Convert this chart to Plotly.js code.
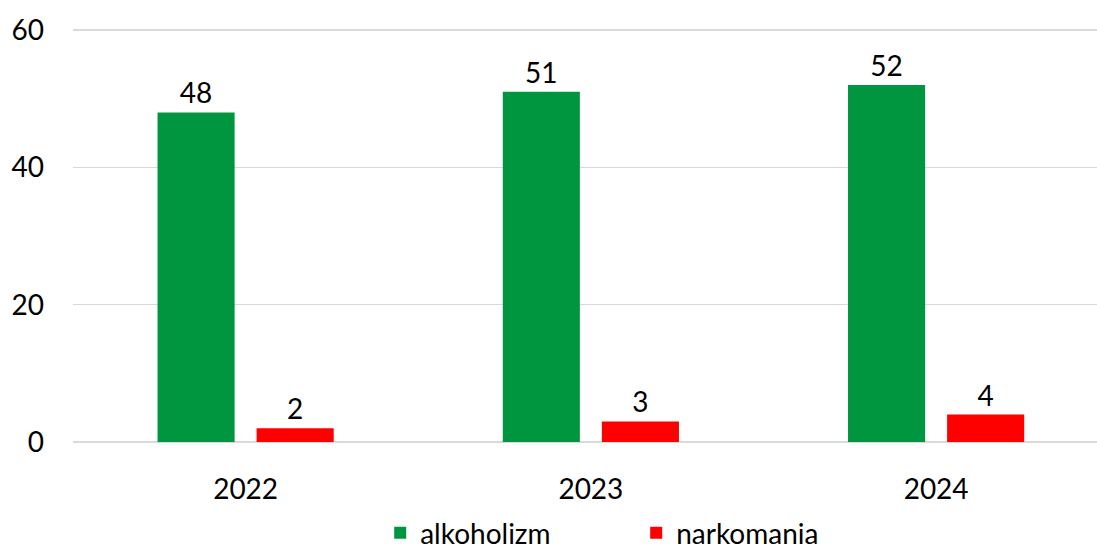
<!DOCTYPE html>
<html><head><meta charset="utf-8">
<script src="https://cdn.plot.ly/plotly-3.0.1.min.js"></script>
<style>html,body{margin:0;padding:0;background:#fff}#c{width:1097px;height:551px}</style>
</head><body><div id="c"></div>
<script>
const years = ['2022', '2023', '2024'];
const alkoholizm = [48, 51, 52];
const narkomania = [2, 3, 4];
const seriesNames = ['alkoholizm', 'narkomania'];
const yTicks = [0, 20, 40, 60];

const FONT = 'Lato, sans-serif';
const traces = [
  {type: 'bar', name: seriesNames[0], x: years, y: alkoholizm, text: alkoholizm.map(String),
   textposition: 'outside', cliponaxis: false, marker: {color: '#009640'},
   textfont: {family: FONT, size: 28, color: '#000'}, hoverinfo: 'none'},
  {type: 'bar', name: seriesNames[1], x: years, y: narkomania, text: narkomania.map(String),
   textposition: 'outside', cliponaxis: false, marker: {color: '#FF0000'},
   textfont: {family: FONT, size: 28, color: '#000'}, hoverinfo: 'none'}
];
const layout = {
  width: 1097, height: 551,
  margin: {l: 73, r: 0, t: 28, b: 109, autoexpand: false},
  paper_bgcolor: '#fff', plot_bgcolor: '#fff',
  barmode: 'group', bargap: 0.426, bargroupgap: 0.222,
  font: {family: FONT, size: 28, color: '#000'},
  xaxis: {type: 'category', range: [-0.5, 2.466], showgrid: false, zeroline: false, automargin: false,
          showline: false, ticks: '', ticklabelstandoff: 28, tickfont: {family: FONT, size: 28, color: '#000'}},
  yaxis: {range: [0, 60.3], tickvals: yTicks, showgrid: true, gridcolor: '#d9d9d9', gridwidth: 1.5, automargin: false,
          zeroline: true, zerolinecolor: '#d9d9d9', zerolinewidth: 1.5, showline: false, ticks: '',
          ticklabelstandoff: 28, tickfont: {family: FONT, size: 28, color: '#000'}},
  showlegend: true,
  legend: {orientation: 'h', x: 0.3, xanchor: 'left', y: -0.22, yanchor: 'middle',
           font: {family: FONT, size: 28, color: '#000'}, entrywidth: 211, entrywidthmode: 'pixels', tracegroupgap: 0},
  uniformtext: {mode: false}
};
Plotly.newPlot('c', traces, layout, {staticPlot: true, displayModeBar: false});
</script></body></html>
